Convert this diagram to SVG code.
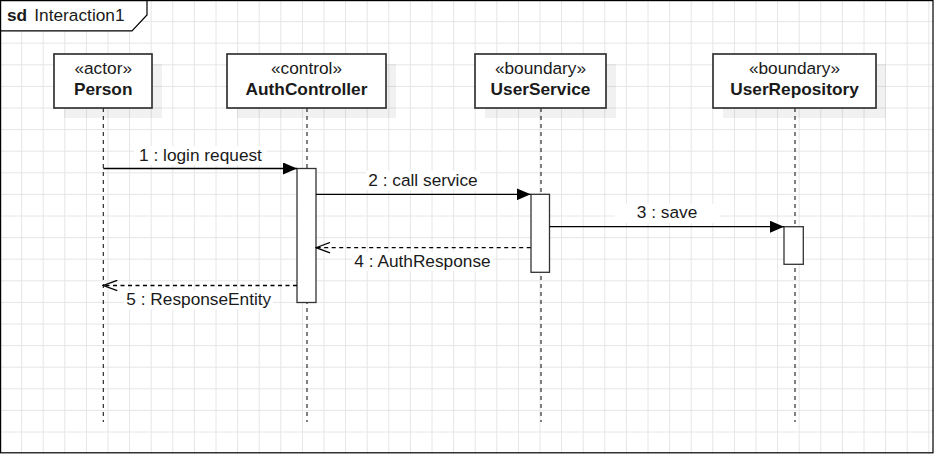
<svg xmlns="http://www.w3.org/2000/svg" width="934" height="454" viewBox="0 0 934 454">
<style>
text{font-family:"Liberation Sans",Arial,sans-serif;font-size:17.28px;fill:#1a1a1a}
.b{font-weight:bold}
.box{fill:#fff;stroke:#333;stroke-width:1.7}
.sh{fill:#000;fill-opacity:0.055}
.act{fill:#fff;stroke:#333;stroke-width:1.3}
.life{stroke:#1a1a1a;stroke-width:1.1;stroke-dasharray:4 4;fill:none}
.msg{stroke:#000;stroke-width:1.3;fill:none}
.ret{stroke:#000;stroke-width:1.3;fill:none;stroke-dasharray:4 3.5}
.lbg{fill:#fff}
</style>
<defs>
<marker id="filled" viewBox="0 0 14 12" refX="14" refY="6" markerWidth="14" markerHeight="12" markerUnits="userSpaceOnUse" orient="auto">
<path d="M0,0 L14,6 L0,12 Z" fill="#000"/>
</marker>
<marker id="open" viewBox="0 0 16 12" refX="15" refY="6" markerWidth="16" markerHeight="12" markerUnits="userSpaceOnUse" orient="auto">
<path d="M1,0.8 L15,6 L1,11.2" fill="none" stroke="#000" stroke-width="1.3"/>
</marker>
</defs>
<rect x="0" y="0" width="934" height="454" fill="#fff"/>
<g id="grid" stroke="#e6e6e6" stroke-width="1" fill="none">
<path d="M21.6,0V454M43.2,0V454M64.8,0V454M86.4,0V454M108,0V454M129.6,0V454M151.2,0V454M172.8,0V454M194.4,0V454M216,0V454M237.6,0V454M259.2,0V454M280.8,0V454M302.4,0V454M324,0V454M345.6,0V454M367.2,0V454M388.8,0V454M410.4,0V454M432,0V454M453.6,0V454M475.2,0V454M496.8,0V454M518.4,0V454M540,0V454M561.6,0V454M583.2,0V454M604.8,0V454M626.4,0V454M648,0V454M669.6,0V454M691.2,0V454M712.8,0V454M734.4,0V454M756,0V454M777.6,0V454M799.2,0V454M820.8,0V454M842.4,0V454M864,0V454M885.6,0V454M907.2,0V454M928.8,0V454"/>
<path d="M0,21.6H934M0,43.2H934M0,64.8H934M0,86.4H934M0,108H934M0,129.6H934M0,151.2H934M0,172.8H934M0,194.4H934M0,216H934M0,237.6H934M0,259.2H934M0,280.8H934M0,302.4H934M0,324H934M0,345.6H934M0,367.2H934M0,388.8H934M0,410.4H934M0,432H934"/>
</g>
<g id="frame">
<rect x="0.6" y="0.6" width="932.4" height="452.2" fill="none" stroke="#000" stroke-width="1.2"/>
<polygon points="0.6,0.6 147,0.6 147,15 132,30.8 0.6,30.8" fill="#fff" stroke="#000" stroke-width="1.2"/>
<text x="7" y="21" class="b">sd</text>
<text x="34.3" y="21">Interaction1</text>
</g>
<g id="lifelines">
<path class="life" d="M103.3,108V422M307,108V422M541,108V422M795,108V422"/>
</g>
<g id="person">
<rect class="sh" x="64" y="64" width="98" height="54"/>
<rect class="box" x="54" y="54" width="98" height="54"/>
<text x="103.2" y="73.5" text-anchor="middle">«actor»</text>
<text x="103.2" y="95" text-anchor="middle" class="b">Person</text>
</g>
<g id="authcontroller">
<rect class="sh" x="237" y="64" width="159" height="54"/>
<rect class="box" x="227" y="54" width="159" height="54"/>
<text x="306.5" y="73.5" text-anchor="middle">«control»</text>
<text x="306.5" y="95" text-anchor="middle" class="b">AuthController</text>
<rect class="act" x="297" y="168.5" width="19" height="134"/>
</g>
<g id="userservice">
<rect class="sh" x="485" y="64" width="131" height="54"/>
<rect class="box" x="475" y="54" width="131" height="54"/>
<text x="540.5" y="73.5" text-anchor="middle">«boundary»</text>
<text x="540.5" y="95" text-anchor="middle" class="b">UserService</text>
<rect class="act" x="531" y="194.3" width="18.5" height="78"/>
</g>
<g id="userrepository">
<rect class="sh" x="723" y="64" width="163" height="54"/>
<rect class="box" x="713" y="54" width="163" height="54"/>
<text x="794.5" y="73.5" text-anchor="middle">«boundary»</text>
<text x="794.5" y="95" text-anchor="middle" class="b">UserRepository</text>
<rect class="act" x="784" y="226.7" width="19.3" height="37.6"/>
</g>
<g id="connectors">
<line class="msg" x1="103.3" y1="168.5" x2="297" y2="168.5" marker-end="url(#filled)"/>
<rect class="lbg" x="134" y="146" width="133" height="19"/>
<text x="200.5" y="161" text-anchor="middle">1 : login request</text>
<line class="msg" x1="316" y1="194.3" x2="530.7" y2="194.3" marker-end="url(#filled)"/>
<rect class="lbg" x="366" y="171" width="114" height="19"/>
<text x="423" y="185.7" text-anchor="middle">2 : call service</text>
<line class="msg" x1="549.5" y1="226.7" x2="784" y2="226.7" marker-end="url(#filled)"/>
<rect class="lbg" x="615" y="204" width="105" height="19"/>
<text x="667" y="218.3" text-anchor="middle">3 : save</text>
<line class="ret" x1="530.7" y1="247.7" x2="316" y2="247.7" marker-end="url(#open)"/>
<rect class="lbg" x="352" y="252" width="141" height="19"/>
<text x="422.5" y="266.7" text-anchor="middle">4 : AuthResponse</text>
<line class="ret" x1="297" y1="285.5" x2="103.3" y2="285.5" marker-end="url(#open)"/>
<rect class="lbg" x="124" y="290.5" width="149" height="19"/>
<text x="198.8" y="305" text-anchor="middle">5 : ResponseEntity</text>
</g>
</svg>
